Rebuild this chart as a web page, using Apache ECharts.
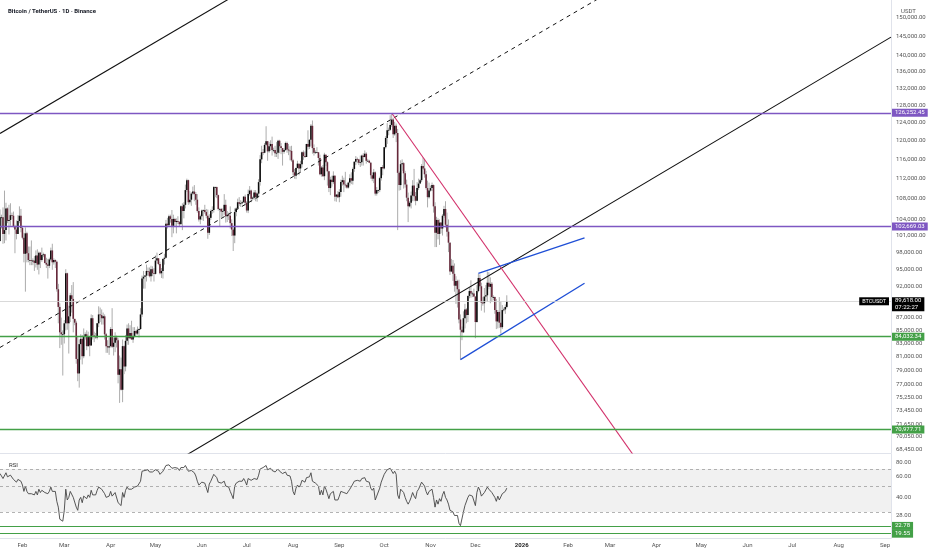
<!DOCTYPE html>
<html><head><meta charset="utf-8">
<script src="https://cdn.jsdelivr.net/npm/echarts@6/dist/echarts.min.js"></script>
<style>html,body{margin:0;padding:0;background:#fff}#c{width:932px;height:550px}</style>
</head><body><div id="c"></div>
<script>
// ---------- data ----------
const startDate = [2025, 0, 17];
const dayCount = 597;
const monthNames = ['Jan','Feb','Mar','Apr','May','Jun','Jul','Aug','Sep','Oct','Nov','Dec'];

// daily OHLC in thousands of USDT (Jan 17 2025 .. Dec 22 2025)
const openK = [
100.0,104.4,104.4,101.3,102.0,106.1,103.7,103.9,104.8,104.7,
102.6,102.1,101.3,103.7,104.7,102.4,100.6,97.7,101.4,97.8,
96.6,96.6,96.5,96.5,96.1,97.4,95.8,97.9,96.6,97.5,
97.6,96.1,95.8,95.6,96.7,98.3,96.2,96.6,96.3,91.6,
88.7,84.7,84.4,84.4,86.1,94.3,86.1,87.2,90.6,90.0,
86.8,86.2,80.7,78.6,82.9,83.7,81.1,84.0,84.4,82.6,
84.1,82.7,86.9,84.2,84.1,83.9,86.1,87.5,87.4,86.9,
87.2,84.4,82.6,82.4,82.6,85.2,82.5,83.1,83.9,83.5,
78.4,79.2,76.3,82.6,79.6,83.4,85.3,83.8,84.6,83.6,
84.0,84.9,84.5,85.1,85.2,87.5,93.4,93.7,93.9,94.7,
94.6,93.8,95.0,94.3,94.2,96.5,96.9,95.9,94.3,94.7,
96.8,97.0,103.2,102.9,104.6,104.1,102.8,104.1,103.5,103.7,
103.5,103.1,106.5,105.6,106.8,109.7,111.7,107.3,107.8,109.0,
109.4,108.9,107.8,105.6,104.0,104.6,105.7,105.8,105.4,104.7,
101.5,104.3,105.6,105.8,110.3,110.3,108.7,106.0,106.0,105.5,
105.6,106.8,104.6,104.9,104.7,103.3,102.1,101.0,105.4,106.1,
107.3,107.0,107.1,107.3,108.4,107.2,105.7,108.9,109.6,108.0,
108.2,109.2,108.3,109.0,111.3,116.0,117.5,117.4,119.1,119.9,
117.7,118.8,119.3,118.0,118.0,117.3,117.4,120.0,118.8,118.4,
117.6,118.0,119.5,118.1,117.9,117.8,115.8,113.3,112.6,114.2,
115.1,114.1,115.0,117.5,116.7,116.5,119.3,118.7,120.2,123.3,
118.4,117.4,117.5,117.5,116.3,112.9,114.3,112.5,117.0,115.4,
113.5,110.1,111.8,111.3,112.6,108.4,108.8,108.3,109.3,111.3,
111.7,110.8,110.7,110.2,111.2,112.1,111.6,114.0,115.5,116.1,
116.0,115.3,115.4,116.8,116.5,117.2,115.7,115.7,115.3,112.7,
112.0,113.3,109.0,109.7,109.7,112.1,114.4,114.1,118.6,120.6,
122.3,122.4,123.5,124.7,121.4,123.3,121.7,113.2,110.7,115.0,
115.2,113.1,110.8,108.2,106.5,107.2,108.6,110.6,108.5,107.6,
110.1,111.0,111.7,114.6,114.1,112.9,110.1,108.3,109.6,110.1,
110.7,106.5,101.5,103.9,101.3,103.4,102.3,104.7,106.0,103.0,
101.7,99.7,94.6,95.6,94.2,92.2,93.0,91.6,86.7,85.1,
84.7,86.9,88.3,87.4,90.5,91.3,90.9,90.9,90.4,86.3,
91.3,93.5,92.1,89.4,89.3,90.4,90.6,92.7,92.0,92.5,
90.3,90.3,88.2,86.4,87.9,86.2,85.5,88.2,88.3,88.7];
const highK = [
105.9,104.9,106.3,109.6,107.2,106.3,106.8,107.1,105.3,105.5,
103.0,103.8,104.8,106.5,106.0,102.8,101.5,102.5,101.7,99.0,
99.0,100.1,96.9,97.3,98.3,98.5,98.1,98.0,98.8,97.9,
97.7,97.0,96.8,97.0,98.8,99.5,96.9,96.7,96.5,92.5,
89.3,87.0,85.0,86.6,95.0,94.4,88.9,91.0,92.3,92.8,
86.8,86.5,84.0,83.6,84.4,84.3,85.3,84.7,85.0,84.8,
84.1,87.5,87.4,84.8,84.6,86.1,88.8,88.6,88.3,87.8,
87.5,84.6,83.5,83.9,85.5,88.5,83.9,84.7,84.2,83.8,
81.2,80.9,83.6,82.7,84.3,85.9,86.1,85.8,86.5,85.5,
85.5,85.1,85.6,85.3,88.5,93.9,94.7,94.0,95.8,95.3,
95.3,95.6,95.5,95.2,97.4,97.9,96.9,96.3,95.2,96.9,
97.7,103.9,104.3,104.9,104.9,105.8,104.9,104.3,104.2,104.6,
103.7,106.7,107.1,107.3,110.8,112.0,111.8,109.5,109.3,110.4,
110.7,109.3,108.9,106.3,104.9,105.9,105.9,106.8,106.0,105.9,
105.0,105.9,106.5,110.5,110.4,110.4,108.8,106.2,106.2,106.1,
108.9,107.8,105.6,105.3,106.5,104.0,102.5,106.1,106.3,108.0,
108.3,107.7,107.6,108.5,108.8,107.5,109.8,110.5,109.8,108.4,
109.7,109.7,109.2,111.9,116.9,118.9,118.2,119.5,123.2,119.9,
119.7,120.1,120.9,118.5,118.9,119.7,120.2,120.2,119.5,118.4,
118.3,119.8,119.8,119.3,118.8,118.9,116.1,114.0,114.3,115.7,
115.1,115.7,117.7,117.9,117.7,119.3,122.3,120.3,123.7,124.5,
119.2,117.9,118.6,117.5,117.0,114.6,114.8,117.4,117.0,115.6,
113.6,112.4,112.6,113.5,112.7,108.9,109.5,109.9,111.8,112.6,
112.2,113.4,111.0,111.4,112.9,113.3,114.3,115.6,116.7,116.4,
116.1,116.8,117.0,117.3,117.9,117.5,116.1,115.9,115.4,113.3,
114.0,113.5,110.3,109.8,112.4,114.4,114.8,118.6,121.0,123.9,
122.9,125.7,126.2,125.1,124.2,123.8,122.6,113.5,115.8,116.0,
115.4,113.6,111.8,109.2,107.5,109.4,111.7,114.0,109.3,111.3,
112.0,111.9,115.0,116.4,116.1,113.6,111.6,111.2,110.6,111.2,
110.8,107.3,104.5,104.2,104.0,103.4,105.0,106.6,107.5,105.3,
104.0,99.8,96.8,96.6,96.0,93.8,93.2,93.2,87.5,85.6,
88.0,89.2,88.5,90.6,91.9,93.1,91.2,91.7,90.4,92.3,
94.2,94.1,92.7,90.3,91.8,92.3,94.6,94.5,93.6,92.8,
90.6,90.4,90.0,88.2,90.3,89.5,89.0,88.6,89.1,90.6];
const lowK = [
99.9,102.3,99.5,99.6,100.1,103.3,101.2,102.8,104.1,102.5,
97.8,100.3,101.3,103.3,101.6,100.3,96.2,91.2,96.2,96.2,
95.7,95.7,95.7,94.7,95.3,94.9,94.1,95.2,96.3,97.1,
96.0,95.2,93.4,95.2,96.4,94.9,95.8,95.2,91.2,86.1,
82.3,82.8,78.3,83.0,85.0,85.1,81.5,86.3,87.8,84.7,
85.8,80.0,77.5,76.6,80.6,79.9,80.8,83.6,82.0,82.5,
81.1,82.7,83.6,83.2,83.7,83.6,85.5,86.3,85.9,85.9,
83.6,81.6,81.6,81.3,82.4,82.3,81.2,81.7,82.4,77.2,
74.5,76.2,74.6,78.5,78.9,82.8,82.8,83.7,83.6,83.1,
83.9,84.3,84.3,83.9,85.1,87.1,91.7,91.7,92.9,93.9,
93.6,92.9,93.8,92.9,94.1,96.0,95.7,94.1,93.5,93.4,
95.8,96.9,102.3,102.8,103.4,100.7,101.4,102.6,101.4,103.1,
102.6,103.1,102.0,104.2,106.1,109.3,106.8,106.9,106.6,108.7,
107.5,106.8,105.3,103.6,103.1,103.9,103.7,105.1,104.2,100.4,
101.1,103.9,105.1,105.3,108.3,108.1,105.7,102.6,104.3,104.5,
104.9,103.4,103.5,103.9,102.3,100.9,98.2,99.6,104.6,105.8,
106.6,106.4,106.9,107.2,106.7,105.3,105.2,108.6,107.3,107.8,
107.8,107.5,107.4,108.4,110.6,115.2,116.9,117.3,118.9,115.7,
117.4,117.8,116.8,117.5,116.5,116.5,116.1,117.3,117.1,114.7,
117.2,117.8,117.4,116.9,115.8,115.5,112.7,112.0,111.9,114.1,
112.7,113.4,114.3,115.9,116.3,116.5,118.1,118.2,118.9,117.2,
116.8,117.2,117.3,114.7,112.7,112.4,112.4,111.7,114.6,110.6,
109.3,108.7,110.4,110.9,107.5,107.4,108.1,107.3,108.4,110.6,
109.3,110.2,110.0,110.0,110.6,110.9,110.8,113.4,114.8,115.2,
114.8,114.4,114.7,114.7,116.4,115.1,115.5,115.2,112.0,111.5,
111.1,108.6,108.6,109.1,109.3,111.6,112.7,113.9,118.3,119.3,
121.2,122.2,123.1,120.6,121.1,119.7,102.0,109.6,109.7,113.6,
110.0,110.2,107.5,103.5,106.3,106.1,107.5,107.5,106.7,107.5,
109.7,110.9,111.3,113.8,112.2,109.8,106.3,108.0,109.4,109.5,
105.3,98.9,98.9,100.3,99.3,101.4,101.0,104.3,102.5,100.8,
98.0,94.0,94.5,93.0,91.2,89.2,88.6,86.1,80.6,83.5,
84.6,85.3,86.1,86.3,90.1,90.2,90.3,90.3,83.8,86.2,
91.1,91.7,88.1,88.9,87.8,89.6,89.5,91.6,89.3,89.5,
89.8,87.6,85.2,85.3,85.4,84.5,85.2,88.0,87.6,88.5];
const closeK = [
104.4,104.4,101.3,102.0,106.1,103.7,103.9,104.8,104.7,102.6,
102.1,101.3,103.7,104.7,102.4,100.6,97.7,101.4,97.8,96.6,
96.6,96.5,96.5,96.1,97.4,95.8,97.9,96.6,97.5,97.6,
96.1,95.8,95.6,96.7,98.3,96.2,96.6,96.3,91.6,88.7,
84.7,84.4,84.4,86.1,94.3,86.1,87.2,90.6,90.0,86.8,
86.2,80.7,78.6,82.9,83.7,81.1,84.0,84.4,82.6,84.1,
82.7,86.9,84.2,84.1,83.9,86.1,87.5,87.4,86.9,87.2,
84.4,82.6,82.4,82.6,85.2,82.5,83.1,83.9,83.5,78.4,
79.2,76.3,82.6,79.6,83.4,85.3,83.8,84.6,83.6,84.0,
84.9,84.5,85.1,85.2,87.5,93.4,93.7,93.9,94.7,94.6,
93.8,95.0,94.3,94.2,96.5,96.9,95.9,94.3,94.7,96.8,
97.0,103.2,102.9,104.6,104.1,102.8,104.1,103.5,103.7,103.5,
103.1,106.5,105.6,106.8,109.7,111.7,107.3,107.8,109.0,109.4,
108.9,107.8,105.6,104.0,104.6,105.7,105.8,105.4,104.7,101.5,
104.3,105.6,105.8,110.3,110.3,108.7,106.0,106.0,105.5,105.6,
106.8,104.6,104.9,104.7,103.3,102.1,101.0,105.4,106.1,107.3,
107.0,107.1,107.3,108.4,107.2,105.7,108.9,109.6,108.0,108.2,
109.2,108.3,109.0,111.3,116.0,117.5,117.4,119.1,119.9,117.7,
118.8,119.3,118.0,118.0,117.3,117.4,120.0,118.8,118.4,117.6,
118.0,119.5,118.1,117.9,117.8,115.8,113.3,112.6,114.2,115.1,
114.1,115.0,117.5,116.7,116.5,119.3,118.7,120.2,123.3,118.4,
117.4,117.5,117.5,116.3,112.9,114.3,112.5,117.0,115.4,113.5,
110.1,111.8,111.3,112.6,108.4,108.8,108.3,109.3,111.3,111.7,
110.8,110.7,110.2,111.2,112.1,111.6,114.0,115.5,116.1,116.0,
115.3,115.4,116.8,116.5,117.2,115.7,115.7,115.3,112.7,112.0,
113.3,109.0,109.7,109.7,112.1,114.4,114.1,118.6,120.6,122.3,
122.4,123.5,124.7,121.4,123.3,121.7,113.2,110.7,115.0,115.2,
113.1,110.8,108.2,106.5,107.2,108.6,110.6,108.5,107.6,110.1,
111.0,111.7,114.6,114.1,112.9,110.1,108.3,109.6,110.1,110.7,
106.5,101.5,103.9,101.3,103.4,102.3,104.7,106.0,103.0,101.7,
99.7,94.6,95.6,94.2,92.2,93.0,91.6,86.7,85.1,84.7,
86.9,88.3,87.4,90.5,91.3,90.9,90.9,90.4,86.3,91.3,
93.5,92.1,89.4,89.3,90.4,90.6,92.7,92.0,92.5,90.3,
90.3,88.2,86.4,87.9,86.2,85.5,88.2,88.3,88.7,89.618];

// daily RSI
const rsiValues = [
64,63,58,59,65,60,60,62,61,57,
56,54,57,58,55,51,45,50,45,43,
43,43,43,42,45,42,47,44,46,46,
44,43,43,45,49,45,46,45,37,33,
26,25,25,31,47,38,40,45,44,40,
39,33,31,38,40,36,41,42,39,42,
40,46,42,42,42,46,49,48,47,48,
43,40,40,41,45,41,42,44,43,36,
37,34,44,40,46,49,47,48,47,47,
49,49,50,51,55,67,68,68,69,69,
66,68,66,66,69,69,67,63,64,67,
68,75,74,76,75,71,73,72,72,71,
68,72,70,72,75,76,67,67,68,68,
65,61,55,51,52,54,54,53,51,44,
52,55,55,63,63,59,54,54,53,53,
55,50,50,49,45,42,39,50,53,55,
55,55,55,58,55,51,58,59,56,56,
58,56,57,62,70,72,72,74,75,69,
71,71,68,68,66,66,70,67,66,64,
64,66,62,61,61,55,45,42,48,51,
49,51,56,54,54,59,58,60,65,55,
53,53,53,50,42,46,42,50,47,43,
39,43,42,45,38,39,38,41,45,46,
44,44,43,45,47,46,52,55,56,56,
55,55,58,57,59,55,55,54,48,46,
48,38,41,41,48,54,53,63,66,69,
69,71,72,64,67,63,42,39,47,47,
44,40,37,35,37,40,44,41,39,45,
47,48,54,53,50,45,42,45,46,47,
40,33,38,35,39,37,42,45,40,38,
35,31,32,30,28,29,28,24,22.9,23.5,
30,34,33,40,42,41,41,40,34,44,
49,46,41,41,44,44,49,47,48,44,
44,40,37,41,38,37,43,44,45,48];

const priceTicks = [150000,145000,140000,136000,132000,128000,124000,120000,116000,112000,108000,104000,101000,98000,95000,92000,87000,85000,83000,81000,79000,77000,75250,73450,71650,70050,68450];
const rsiTicks = [80,60,40,28];
const purpleLevels = [126252.45, 102669.03];
const greenLevels = [84032.34, 70977.71];
const rsiGreenLevels = [22.78, 19.55];
const rsiDashedLevels = [70, 50, 30];
const rsiBand = [30, 70];
const lastPrice = 89618.00;
const countdown = '07:22:27';
const symbolName = 'BTCUSDT';

// drawn trend lines: [date, price]
const channelUpper = [['2025-01-17',121590],['2025-07-10',160553]];
const channelLower = [['2025-05-05',65960],['2026-09-05',144880]];
const channelMid = [['2025-01-17',82400],['2026-03-08',159045]];
const downTrend = [['2025-10-06',126200],['2026-03-28',64862]];
const wedgeUpper = [['2025-12-03',94268],['2026-02-12',100568]];
const wedgeLower = [['2025-11-21',80600],['2026-02-12',92600]];

// ---------- build ----------
const dates = [];
const t0 = Date.UTC(startDate[0], startDate[1], startDate[2]);
for (let i = 0; i < dayCount; i++) dates.push(new Date(t0 + i * 86400000).toISOString().slice(0, 10));

const candles = closeK.map((c, i) => [i, openK[i] * 1000, c * 1000, lowK[i] * 1000, highK[i] * 1000]);
const rsiData = rsiValues.map((v, i) => [i, v]);

const fmt2 = v => Number(v).toLocaleString('en-US', {minimumFractionDigits: 2, maximumFractionDigits: 2});
const FONT = 'Roboto, "Liberation Sans", sans-serif';
const PURPLE = '#7e57c2', GREEN = '#43a047';

function levelLine(v, color) {
  return {yAxis: v, lineStyle: {color: color, width: 1.4, type: 'solid'},
    label: {show: true, position: 'end', distance: 1, formatter: fmt2(v), color: '#fff', backgroundColor: color,
      fontSize: 6, fontFamily: FONT, padding: [1, 3, 1, 3]}};
}
function seg(data, color, width, type) {
  return {type: 'line', xAxisIndex: 0, yAxisIndex: 0, data: data, symbol: 'none', silent: true, clip: true,
    lineStyle: {color: color, width: width, type: type}, z: 4, animation: false};
}

const chart = echarts.init(document.getElementById('c'));
chart.setOption({
  animation: false,
  backgroundColor: '#ffffff',
  textStyle: {fontFamily: FONT},
  title: [
    {text: 'Bitcoin / TetherUS · 1D · Binance', left: 3, top: 3, textStyle: {fontSize: 6, fontWeight: 'bold', color: '#131722', fontFamily: FONT}},
    {text: 'USDT', left: 896, top: 3, textStyle: {fontSize: 6, fontWeight: 'normal', color: '#555', fontFamily: FONT}},
    {text: 'RSI', left: 4, top: 457, textStyle: {fontSize: 6, fontWeight: 'normal', color: '#333', fontFamily: FONT}}
  ],
  grid: [
    {left: 0, right: 41, top: 0, height: 453},
    {left: 0, right: 41, top: 454, height: 84}
  ],
  xAxis: [
    {type: 'category', gridIndex: 0, data: dates, boundaryGap: false,
      axisLine: {show: true, lineStyle: {color: '#e0e3eb'}}, axisTick: {show: false}, axisLabel: {show: false}, splitLine: {show: false}},
    {type: 'category', gridIndex: 1, data: dates, boundaryGap: false,
      axisLine: {show: true, lineStyle: {color: '#e0e3eb'}}, axisTick: {show: false}, splitLine: {show: false},
      axisLabel: {show: true, fontSize: 6, color: '#555', margin: 4,
        interval: (idx, val) => val.slice(8) === '01',
        formatter: val => { const m = +val.slice(5, 7); return m === 1 ? '{b|' + val.slice(0, 4) + '}' : monthNames[m - 1]; },
        rich: {b: {fontSize: 6, fontWeight: 'bold', color: '#222'}}}}
  ],
  yAxis: [
    {type: 'log', gridIndex: 0, position: 'right', min: 68013, max: 154990, logBase: 10,
      axisLine: {show: true, lineStyle: {color: '#e0e3eb'}}, axisTick: {show: false}, splitLine: {show: false},
      axisLabel: {customValues: priceTicks, formatter: v => fmt2(v), fontSize: 6, color: '#555', margin: 5}},
    {type: 'log', gridIndex: 1, position: 'right', min: 17.95, max: 94.1, logBase: 10,
      axisLine: {show: true, lineStyle: {color: '#e0e3eb'}}, axisTick: {show: false}, splitLine: {show: false},
      axisLabel: {customValues: rsiTicks, formatter: v => fmt2(v), fontSize: 6, color: '#555', margin: 5}}
  ],
  series: [
    {
      type: 'custom', name: 'BTCUSDT', xAxisIndex: 0, yAxisIndex: 0, data: candles, clip: true, z: 3,
      encode: {x: 0, y: [1, 2, 3, 4]},
      renderItem: function (params, api) {
        const i = api.value(0);
        const o = api.coord([i, api.value(1)]);
        const c = api.coord([i, api.value(2)]);
        const l = api.coord([i, api.value(3)]);
        const h = api.coord([i, api.value(4)]);
        const up = api.value(2) >= api.value(1);
        const x = o[0];
        const top = Math.min(o[1], c[1]);
        const bh = Math.max(Math.abs(o[1] - c[1]), 0.8);
        return {type: 'group', children: [
          {type: 'line', shape: {x1: x, y1: h[1], x2: x, y2: l[1]}, style: {stroke: '#a3a3a3', lineWidth: 0.9}},
          {type: 'rect', shape: {x: x - 0.8, y: top, width: 1.6, height: bh}, style: {fill: up ? '#0d0d0d' : '#66283a'}}
        ]};
      },
      markLine: {
        silent: true, symbol: ['none', 'none'], animation: false,
        data: [
          levelLine(purpleLevels[0], PURPLE), levelLine(purpleLevels[1], PURPLE),
          levelLine(greenLevels[0], GREEN), levelLine(greenLevels[1], GREEN),
          {yAxis: lastPrice, lineStyle: {color: '#cfcfcf', width: 0.8, type: 'solid'},
            label: {show: true, position: 'end', distance: 1, formatter: fmt2(lastPrice) + '\n' + countdown,
              color: '#fff', backgroundColor: '#000', fontSize: 6, lineHeight: 7, padding: [0, 3, 0, 3], offset: [0, 3]}},
          {yAxis: lastPrice, lineStyle: {color: 'rgba(0,0,0,0)', width: 0.1},
            label: {show: true, position: 'insideEnd', distance: 2, formatter: symbolName,
              color: '#fff', backgroundColor: '#000', fontSize: 5.5, padding: [1, 3, 1, 3]}}
        ]
      }
    },
    seg(channelUpper, '#111', 1.1, 'solid'),
    seg(channelLower, '#111', 1.1, 'solid'),
    seg(channelMid, '#111', 1, [4, 4]),
    seg(downTrend, '#d2306a', 1.1, 'solid'),
    seg(wedgeUpper, '#1f4fd6', 1.3, 'solid'),
    seg(wedgeLower, '#1f4fd6', 1.3, 'solid'),
    {
      type: 'line', name: 'RSI', xAxisIndex: 1, yAxisIndex: 1, data: rsiData, symbol: 'none', clip: true,
      lineStyle: {color: '#444', width: 0.9}, z: 4,
      markArea: {silent: true, itemStyle: {color: 'rgba(0,0,0,0.055)'}, data: [[{yAxis: rsiBand[0]}, {yAxis: rsiBand[1]}]]},
      markLine: {
        silent: true, symbol: ['none', 'none'], animation: false,
        data: rsiDashedLevels.map(v => ({yAxis: v, lineStyle: {color: '#a0a0a0', width: 0.8, type: [3, 3]}, label: {show: false}}))
          .concat(rsiGreenLevels.map(v => ({yAxis: v, lineStyle: {color: GREEN, width: 1.2, type: 'solid'},
            label: {show: true, position: 'end', distance: 1, formatter: fmt2(v), color: '#fff', backgroundColor: GREEN,
              fontSize: 6, padding: [1, 3, 1, 3]}})))
      }
    }
  ]
});
</script>
</body></html>
